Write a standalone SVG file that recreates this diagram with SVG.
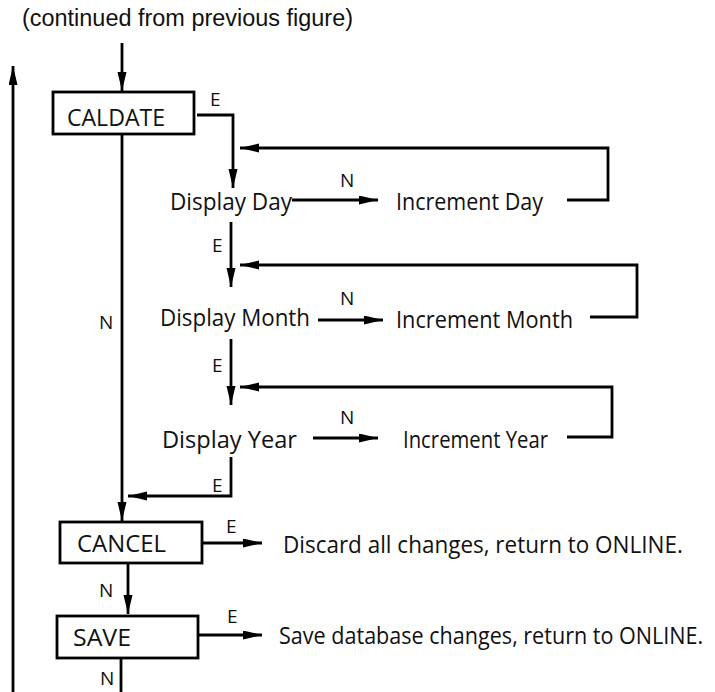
<svg xmlns="http://www.w3.org/2000/svg" width="715" height="692" viewBox="0 0 715 692">
<defs>
<marker id="ah" markerUnits="userSpaceOnUse" markerWidth="20" markerHeight="10" refX="19" refY="4.5" orient="auto">
<path d="M0,0 L19,4.5 L0,9 z" fill="#000"/>
</marker>
<style>
.t{font-family:"Open Sans","Noto Sans","DejaVu Sans",sans-serif;font-size:23px;fill:#111}
.l{font-family:"Open Sans","Noto Sans","DejaVu Sans",sans-serif;font-size:19px;fill:#111}
.box{fill:#fff;stroke:#000;stroke-width:2.8}
.c{fill:none;stroke:#000;stroke-width:2.8}
.a{fill:none;stroke:#000;stroke-width:2.8;marker-end:url(#ah)}
</style>
</defs>
<rect width="715" height="692" fill="#fff"/>
<text x="22" y="26" font-family="'Liberation Sans',Arial,sans-serif" font-size="23" fill="#111" textLength="331" lengthAdjust="spacingAndGlyphs">(continued from previous figure)</text>

<g id="connectors">
<path class="a" d="M122 43 V91"/>
<path class="a" d="M13 692 V66"/>
<path class="a" d="M197 115 H233 V188"/>
<path class="a" d="M567 200 H608 V148 H240"/>
<path class="a" d="M292 200 H378"/>
<path class="a" d="M231 222 V287"/>
<path class="a" d="M590 317 H637 V265 H240"/>
<path class="a" d="M318 320 H383"/>
<path class="a" d="M231 339 V405"/>
<path class="a" d="M567 437 H612 V387 H240"/>
<path class="a" d="M313 438 H378"/>
<path class="a" d="M231 457 V496 H128"/>
<path class="a" d="M122 134 V521"/>
<path class="a" d="M202 543 H262"/>
<path class="a" d="M128 563 V614"/>
<path class="a" d="M198 635 H262"/>
<path class="c" d="M121 658 V692"/>
<text class="l" x="210" y="106">E</text>
<text class="l" x="340" y="187">N</text>
<text class="l" x="212" y="252">E</text>
<text class="l" x="340" y="305">N</text>
<text class="l" x="212" y="372">E</text>
<text class="l" x="340" y="424">N</text>
<text class="l" x="212" y="492">E</text>
<text class="l" x="99" y="329">N</text>
<text class="l" x="226" y="533">E</text>
<text class="l" x="99" y="597">N</text>
<text class="l" x="227" y="623">E</text>
<text class="l" x="100" y="685">N</text>
</g>

<g id="caldate">
<rect class="box" x="53" y="92" width="141" height="42"/>
<text class="t" x="67" y="126" textLength="98" lengthAdjust="spacingAndGlyphs">CALDATE</text>
</g>
<g id="display-day">
<text class="t" x="170" y="210" textLength="122" lengthAdjust="spacingAndGlyphs">Display Day</text>
</g>
<g id="increment-day">
<text class="t" x="396" y="210" textLength="147" lengthAdjust="spacingAndGlyphs">Increment Day</text>
</g>
<g id="display-month">
<text class="t" x="160" y="326" textLength="150" lengthAdjust="spacingAndGlyphs">Display Month</text>
</g>
<g id="increment-month">
<text class="t" x="396" y="328" textLength="177" lengthAdjust="spacingAndGlyphs">Increment Month</text>
</g>
<g id="display-year">
<text class="t" x="162" y="448" textLength="135" lengthAdjust="spacingAndGlyphs">Display Year</text>
</g>
<g id="increment-year">
<text class="t" x="403" y="448" textLength="145" lengthAdjust="spacingAndGlyphs">Increment Year</text>
</g>
<g id="cancel">
<rect class="box" x="60" y="522" width="142" height="41"/>
<text class="t" x="77" y="552" textLength="89" lengthAdjust="spacingAndGlyphs">CANCEL</text>
</g>
<g id="discard">
<text class="t" transform="translate(283,553) scale(0.84,1)" x="0" y="0" textLength="476" lengthAdjust="spacingAndGlyphs">Discard all changes, return to ONLINE.</text>
</g>
<g id="save">
<rect class="box" x="57" y="616" width="141" height="42"/>
<text class="t" x="73" y="646" textLength="58" lengthAdjust="spacingAndGlyphs">SAVE</text>
</g>
<g id="save-db">
<text class="t" transform="translate(279,644) scale(0.84,1)" x="0" y="0" textLength="505" lengthAdjust="spacingAndGlyphs">Save database changes, return to ONLINE.</text>
</g>
</svg>
